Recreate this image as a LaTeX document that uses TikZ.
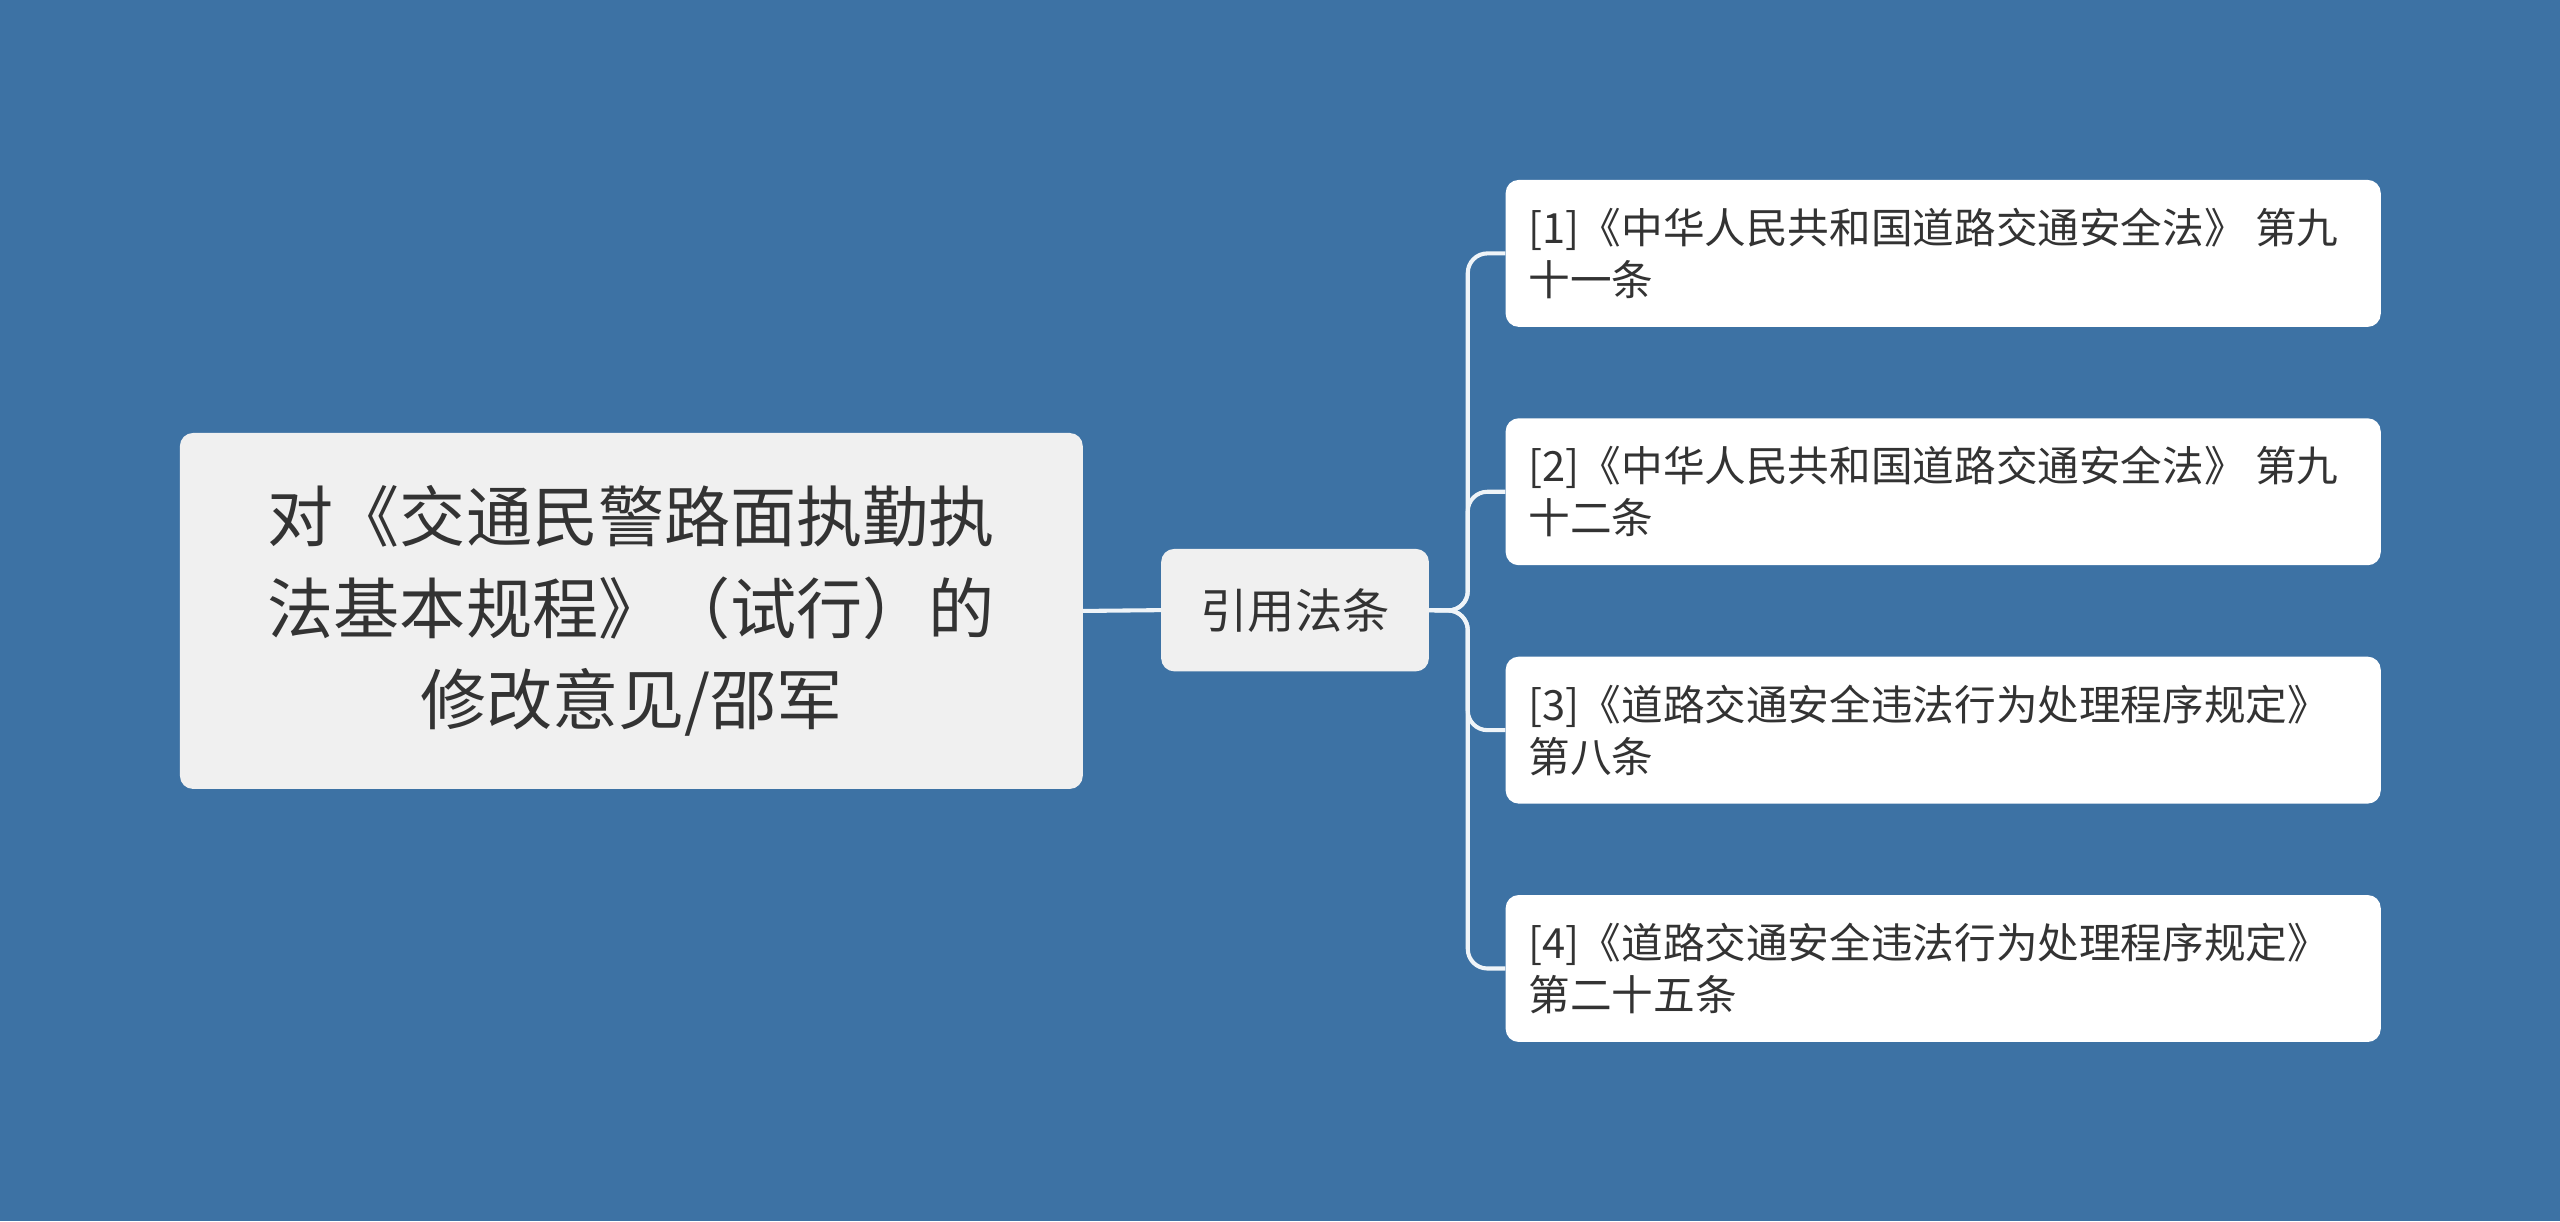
\documentclass[tikz,border=0pt]{standalone}
\usepackage{fontspec}
\newfontfamily\cjk{Noto Sans CJK SC}
\definecolor{bg}{HTML}{3D72A4}
\definecolor{tx}{HTML}{333333}
\definecolor{rootfill}{HTML}{F0F0F0}
\begin{document}
\begin{tikzpicture}[x=1pt,y=-1pt,
  box/.style={rounded corners=8pt,inner sep=0pt,text=tx},
  conn/.style={draw=white!92!bg,line width=2.5pt,rounded corners=12pt}]
\fill[bg] (0,0) rectangle (1568,748);
\useasboundingbox (0,0) rectangle (1568,748);
\node[box,fill=rootfill,minimum width=553pt,minimum height=218pt,anchor=north west,
  align=center,font=\cjk\fontsize{40.5}{56}\selectfont] (root) at (110,265)
  {对《交通民警路面执勤执\\法基本规程》（试行）的\\修改意见/邵军};
\node[box,fill=rootfill,minimum width=164pt,minimum height=75pt,anchor=north west,
  font=\cjk\fontsize{29}{34}\selectfont] (mid) at (711,336) {引用法条};
\foreach \i/\y/\a/\b in {1/110/{[1]《中华人民共和国道路交通安全法》 第九}/{十一条},
  2/256/{[2]《中华人民共和国道路交通安全法》 第九}/{十二条},
  3/402/{[3]《道路交通安全违法行为处理程序规定》}/{第八条},
  4/548/{[4]《道路交通安全违法行为处理程序规定》}/{第二十五条}}{
  \node[box,fill=white,minimum width=536pt,minimum height=90pt,anchor=north west] (l\i) at (922,\y) {};
  \node[anchor=west,align=left,text=tx,inner sep=0pt,font=\cjk\fontsize{25.5}{32}\selectfont]
    (t\i) at ([xshift=14pt]l\i.west) {\a\\\b};
  \draw[conn] (mid.east) -- (899,374) |- (l\i.west);
}
\draw[conn] (root.east) -- (mid.west);
\end{tikzpicture}
\end{document}
